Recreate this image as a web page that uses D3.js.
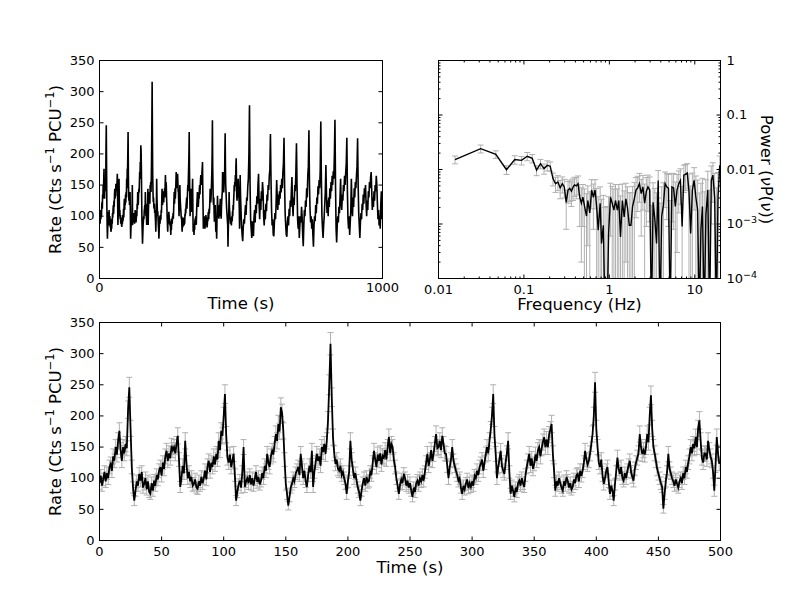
<!DOCTYPE html>
<html>
<head>
<meta charset="utf-8">
<script src="https://cdn.jsdelivr.net/npm/d3@7"></script>
<style>
  body { margin: 0; background: #fff; }
</style>
</head>
<body>
<svg id="chart" width="800" height="600"></svg>
<script>
// light curve, 1 s bins from t = 0 (cts/s/PCU)
const rate = [
  92,104,88,98,110,95,108,100,118,123,112,135,128,150,138,160,176,145,128,150,
  140,155,148,210,246,180,118,85,64,80,95,88,107,96,110,85,91,100,82,95,
  78,75,92,80,96,88,105,98,112,118,104,125,115,135,144,128,140,132,152,145,
  150,140,155,168,130,86,100,120,108,160,125,100,110,95,102,88,91,98,85,83,
  95,88,102,92,100,112,98,120,128,110,125,118,135,122,139,130,160,145,176,168,
  200,235,170,133,125,138,118,128,139,105,64,78,90,96,85,110,150,86,95,100,
  92,105,90,100,88,98,110,94,102,90,96,108,100,120,112,139,125,118,135,144,
  138,155,171,160,187,175,214,205,176,130,91,75,56,70,85,91,100,95,108,112,
  118,105,139,120,100,112,95,86,105,120,110,144,86,110,125,139,128,135,120,150,
  142,155,139,160,193,250,316,230,166,140,123,130,115,112,120,105,110,100,92,75,
  95,110,160,130,115,100,108,96,85,78,64,80,92,100,88,102,94,96,110,105,
  125,144,130,118,138,128,140,122,136,133,145,130,150,166,140,155,150,130,118,100,
  88,75,90,98,92,107,100,88,96,85,92,80,70,85,78,92,96,88,100,95,
  105,96,110,125,139,120,130,145,128,139,155,171,148,150,160,145,168,155,140,139,
  120,100,118,130,150,128,120,112,105,96,100,85,75,88,82,91,98,84,92,86,
  95,88,104,100,112,105,118,123,130,112,125,138,150,140,160,178,200,235,170,139,
  100,118,130,144,120,112,107,125,140,160,110,75,88,80,70,85,78,92,96,88,
  100,92,86,105,118,128,139,120,132,115,123,138,128,145,150,135,148,158,166,150,
  162,150,170,178,187,140,112,80,95,88,100,92,85,80,95,88,102,96,85,92,
  82,86,98,92,105,107,95,112,104,112,125,144,130,122,128,140,155,171,200,254,
  180,150,125,118,130,105,91,100,112,118,95,75,88,80,64,90,110,133,115,107,
  118,100,96,108,100,112,120,128,110,102,96,115,125,133,140,171,150,139,145,138,
  150,171,158,200,233,180,150,140,128,115,107,100,92,86,51,75,96,110,139,115,
  108,100,95,88,98,91,85,95,100,92,108,100,118,110,125,135,150,140,155,148,
  166,150,180,193,160,133,125,140,139,130,160,145,135,128,110,80,120,166,140,123
];
const rateErr = [
  10,10,9,10,10,10,10,10,11,11,11,12,11,12,12,13,13,12,11,12,
  12,12,12,14,16,13,11,9,8,9,10,9,10,10,10,9,10,10,9,10,
  9,9,10,9,10,9,10,10,11,11,10,11,11,12,12,11,12,11,12,12,
  12,12,12,13,11,9,10,11,10,13,11,10,10,10,10,9,10,10,9,9,
  10,9,10,10,10,11,10,11,11,10,11,11,12,11,12,11,13,12,13,13,
  14,15,13,12,11,12,11,11,12,10,8,9,9,10,9,10,12,9,10,10,
  10,10,9,10,9,10,10,10,10,9,10,10,10,11,11,12,11,11,12,12,
  12,12,13,13,14,13,15,14,13,11,10,9,7,8,9,10,10,10,10,11,
  11,10,12,11,10,11,10,9,10,11,10,12,9,10,11,12,11,12,11,12,
  12,12,12,13,14,16,18,15,13,12,11,11,11,11,11,10,10,10,10,9,
  10,10,13,11,11,10,10,10,9,9,8,9,10,10,9,10,10,10,10,10,
  11,12,11,11,12,11,12,11,12,12,12,11,12,13,12,12,12,11,11,10,
  9,9,9,10,10,10,10,9,10,9,10,9,8,9,9,10,10,9,10,10,
  10,10,10,11,12,11,11,12,11,12,12,13,12,12,13,12,13,12,12,12,
  11,10,11,11,12,11,11,11,10,10,10,9,9,9,9,10,10,9,10,9,
  10,9,10,10,11,10,11,11,11,11,11,12,12,12,13,13,14,15,13,12,
  10,11,11,12,11,11,10,11,12,13,10,9,9,9,8,9,9,10,10,9,
  10,10,9,10,11,11,12,11,11,11,11,12,11,12,12,12,12,13,13,12,
  13,12,13,13,14,12,11,9,10,9,10,10,9,9,10,9,10,10,9,10,
  9,9,10,10,10,10,10,11,10,11,11,12,11,11,11,12,12,13,14,16,
  13,12,11,11,11,10,10,10,11,11,10,9,9,9,8,9,10,12,11,10,
  11,10,10,10,10,11,11,11,10,10,10,11,11,12,12,13,12,12,12,12,
  12,13,13,14,15,13,12,12,11,11,10,10,10,9,7,9,10,10,12,11,
  10,10,10,9,10,10,9,10,10,10,10,10,11,10,11,12,12,12,12,12,
  13,12,13,14,13,12,11,12,12,11,13,12,12,11,10,9,11,13,12,11
];
const binSec = 1;

// second half of the 1000 s light curve (top-left panel), 2 s bins from 500 s
const lateRate = [
  110,85,70,60,82,95,88,105,118,102,130,125,148,160,200,278,150,95,80,65,92,85,68,98,110,
  90,118,105,132,120,150,168,120,95,128,110,140,125,155,140,100,85,110,95,120,108,135,125,150,142,
  165,175,232,160,110,85,95,70,68,90,105,95,120,158,130,110,135,118,140,128,150,138,160,145,170,
  185,226,150,105,85,70,67,90,100,85,112,100,125,115,140,163,120,100,130,118,150,140,172,217,150,
  95,80,100,65,85,100,90,115,98,70,52,85,110,100,125,115,145,130,165,180,238,150,110,90,100,
  80,95,70,51,85,100,92,118,105,130,120,148,135,158,145,175,252,160,100,80,65,85,100,120,140,
  182,135,105,125,100,130,115,145,128,155,140,165,150,172,160,200,255,150,80,58,85,100,90,115,105,
  130,160,120,110,135,125,150,140,165,150,170,185,226,140,95,80,100,70,90,110,160,115,100,130,115,
  145,130,155,145,165,180,225,150,105,85,65,90,105,95,120,110,135,120,145,130,150,120,100,125,110,
  140,130,155,145,162,171,140,110,130,115,140,125,150,140,165,150,120,95,110,85,100,80,120,140,95
];
const lateStart = 500;
const lateBinSec = 2;

// power spectrum: frequency (Hz), nu*P(nu) and its error
const freq = [
  0.0156,0.0312,0.0469,0.0625,0.0781,0.0938,0.1094,0.125,0.1406,0.1562,0.1719,0.1875,0.2031,
  0.2188,0.2344,0.25,0.2656,0.2812,0.2969,0.3125,0.3281,0.3438,0.3594,0.375,0.3906,
  0.41,0.43,0.45,0.47,0.49,0.51,0.54,0.56,0.59,0.62,0.65,0.68,0.71,0.74,0.78,0.81,0.85,0.89,0.94,0.98,
  1.03,1.08,1.13,1.18,1.24,1.29,1.35,1.42,1.49,1.56,1.63,1.71,1.79,1.87,1.96,2.05,2.15,2.25,2.36,2.47,
  2.59,2.71,2.83,2.97,3.11,3.25,3.41,3.57,3.73,3.91,4.10,4.29,4.49,4.70,4.92,5.15,5.40,5.65,5.92,6.20,
  6.49,6.79,7.11,7.45,7.80,8.17,8.55,8.95,9.37,9.82,10.3,10.8,11.3,11.8,12.3,12.9,13.5,14.2,14.9,15.6,
  16.3,17.1,17.9,18.7,19.6
];
const power = [
  0.0152,0.0241,0.019,0.0099,0.0152,0.0147,0.0175,0.016,0.0097,0.0128,0.0104,0.0119,0.0115,
  0.0068,0.0055,0.0059,0.0046,0.0055,0.0048,0.0025,0.0042,0.0045,0.004,0.0047,0.0052,
  0.005,0.0055,0.0031,0.0024,0.0031,0.0022,0.0014,0.0027,0.0016,0.0042,0.0031,0.0042,0.0021,0.00077,0.0024,0.00044,0.00095,-0.0005,-0.0004,0.00067,
  0.0031,0.0024,0.0018,0.0027,0.0018,0.0027,0.00058,0.0027,0.00135,0.0029,0.002,0.00095,0.00095,0.0021,0.0029,0.0042,0.0046,0.0055,0.0036,0.0048,
  0.0024,0.004,0.0048,0.0042,-0.001,0.0025,0.0012,0.00044,0.0063,-0.001,0.0014,0.0022,0.0055,0.0048,0.0045,-0.001,0.0048,0.0046,0.0021,0.0042,
  0.0055,0.0063,0.0009,0.0079,0.0082,0.0086,0.004,0.00067,0.0042,0.0063,0.0031,0.0018,-0.001,0.0008,0.0021,-0.001,0.0015,0.0042,-0.001,0.0063,
  0.0079,0.003,-0.001,0.0031,0.0119
];
const powerErr = [
  0.0025,0.004,0.003,0.0018,0.0027,0.0026,0.003,0.0028,0.002,0.0025,0.0022,0.0025,0.0022,
  0.0018,0.0017,0.0018,0.0017,0.0018,0.0018,0.0017,0.0018,0.0019,0.0019,0.002,0.002,
  0.0021,0.0021,0.0022,0.0022,0.0022,0.0022,0.0022,0.0023,0.0023,0.0023,0.0023,0.0023,0.0024,0.0024,0.0024,0.0024,0.0024,0.0025,0.0025,0.0025,
  0.0025,0.0025,0.0026,0.0026,0.0026,0.0026,0.0027,0.0027,0.0027,0.0027,0.0028,0.0028,0.0028,0.0028,0.0029,0.0029,0.0029,0.003,0.003,0.003,
  0.003,0.0031,0.0031,0.0031,0.0032,0.0032,0.0033,0.0033,0.0033,0.0034,0.0034,0.0035,0.0035,0.0036,0.0036,0.0037,0.0037,0.0038,0.0038,0.0039,
  0.0039,0.004,0.004,0.0041,0.0041,0.0042,0.0043,0.0043,0.0044,0.0045,0.0045,0.0046,0.0047,0.0048,0.0048,0.0049,0.005,0.0051,0.0052,0.0053,
  0.0054,0.0055,0.0056,0.0057,0.0058
];

// tick values
const rateTicks = [0, 50, 100, 150, 200, 250, 300, 350];
const fullTimeTicks = [0, 1000];
const zoomTimeTicks = [0, 50, 100, 150, 200, 250, 300, 350, 400, 450, 500];
const freqTicks = [0.01, 0.1, 1, 10];
const freqMinor = [0.02,0.03,0.04,0.05,0.06,0.07,0.08,0.09,0.2,0.3,0.4,0.5,0.6,0.7,0.8,0.9,2,3,4,5,6,7,8,9];
const powerTicks = [1e-4, 1e-3, 1e-2, 0.1, 1];
const powerMinor = [2e-4,3e-4,4e-4,5e-4,6e-4,7e-4,8e-4,9e-4,2e-3,3e-3,4e-3,5e-3,6e-3,7e-3,8e-3,9e-3,
  0.02,0.03,0.04,0.05,0.06,0.07,0.08,0.09,0.2,0.3,0.4,0.5,0.6,0.7,0.8,0.9];

const svg = d3.select("#chart");
const font = "'DejaVu Sans', sans-serif";
const grey = "#b0b0b0";

const A = { x0: 99.5, x1: 382.5, y0: 60.5, y1: 278.5 };
const B = { x0: 438.5, x1: 720.5, y0: 60.5, y1: 278.5 };
const C = { x0: 99.5, x1: 720.5, y0: 322.5, y1: 540.5 };

const defs = svg.append("defs");
[["clipA", A], ["clipB", B], ["clipC", C]].forEach(([id, b]) => {
  defs.append("clipPath").attr("id", id).append("rect")
    .attr("x", b.x0).attr("y", b.y0)
    .attr("width", b.x1 - b.x0).attr("height", b.y1 - b.y0);
});

function callAxis(axis, tr) {
  const g = svg.append("g").attr("transform", tr)
    .call(axis.offset(0).tickSizeOuter(0))
    .attr("font-family", font).attr("font-size", 13);
  g.select(".domain").remove();
  g.selectAll(".tick line").attr("stroke", "#000");
  g.selectAll(".tick text").attr("fill", "#000");
  return g;
}

// inward tick marks on all four sides
function inTicks(b, x, y, xv, yv, len) {
  const none = () => "";
  callAxis(d3.axisBottom(x).tickValues(xv).tickSizeInner(-len).tickFormat(none), `translate(0,${b.y1})`);
  callAxis(d3.axisTop(x).tickValues(xv).tickSizeInner(-len).tickFormat(none), `translate(0,${b.y0})`);
  callAxis(d3.axisLeft(y).tickValues(yv).tickSizeInner(-len).tickFormat(none), `translate(${b.x0},0)`);
  callAxis(d3.axisRight(y).tickValues(yv).tickSizeInner(-len).tickFormat(none), `translate(${b.x1},0)`);
}

function labels(axis, tr) {
  const g = callAxis(axis.tickSizeInner(0), tr);
  g.selectAll(".tick line").remove();
  return g;
}

function frame(b) {
  svg.append("rect").attr("x", b.x0).attr("y", b.y0)
    .attr("width", b.x1 - b.x0).attr("height", b.y1 - b.y0)
    .attr("fill", "none").attr("stroke", "#000").attr("stroke-width", 1);
}

function axisTitle(x, y, rot, str) {
  return svg.append("text")
    .attr("transform", `translate(${x},${y}) rotate(${rot})`)
    .attr("text-anchor", "middle").attr("font-family", font)
    .attr("font-size", 16.5).attr("fill", "#000").text(str);
}

function rateTitle(x, y) {
  const t = axisTitle(x, y, -90, null);
  t.append("tspan").text("Rate (Cts s");
  t.append("tspan").attr("dy", -7).attr("font-size", 11.5).text("\u22121");
  t.append("tspan").attr("dy", 7).text(" PCU");
  t.append("tspan").attr("dy", -7).attr("font-size", 11.5).text("\u22121");
  t.append("tspan").attr("dy", 7).text(")");
}

// ---------- top left: 1000 s light curve ----------
const lcFull = rate.map((r, i) => ({ t: i * binSec, r }))
  .concat(lateRate.map((r, i) => ({ t: lateStart + i * lateBinSec, r })));

const xA = d3.scaleLinear().domain([0, 1000]).range([A.x0, A.x1]);
const yA = d3.scaleLinear().domain([0, 350]).range([A.y1, A.y0]);

svg.append("g").attr("clip-path", "url(#clipA)")
  .append("path").datum(lcFull)
  .attr("fill", "none").attr("stroke", "#000").attr("stroke-width", 1.6)
  .attr("d", d3.line().x(d => xA(d.t)).y(d => yA(d.r)));

inTicks(A, xA, yA, fullTimeTicks, rateTicks, 4);
labels(d3.axisBottom(xA).tickValues(fullTimeTicks).tickPadding(4).tickFormat(d3.format("d")), `translate(0,${A.y1})`);
labels(d3.axisLeft(yA).tickValues(rateTicks).tickPadding(5), `translate(${A.x0},0)`);
frame(A);
axisTitle((A.x0 + A.x1) / 2, 309, 0, "Time (s)");
rateTitle(61, (A.y0 + A.y1) / 2);

// ---------- top right: power spectrum ----------
const psd = freq.map((f, i) => ({ f, p: power[i], e: powerErr[i] }));
const xB = d3.scaleLog().domain([0.01, 20]).range([B.x0, B.x1]);
const yB = d3.scaleLog().domain([1e-4, 1]).range([B.y1, B.y0]);
const pyB = v => (v > 0 ? yB(v) : B.y1 + 40);

const gB = svg.append("g").attr("clip-path", "url(#clipB)");
const ebB = gB.append("g").attr("stroke", grey).attr("stroke-width", 1);
ebB.selectAll("line.bar").data(psd).join("line").attr("class", "bar")
  .attr("x1", d => xB(d.f)).attr("x2", d => xB(d.f))
  .attr("y1", d => pyB(d.p - d.e)).attr("y2", d => pyB(d.p + d.e));
ebB.selectAll("line.cap")
  .data(psd.flatMap(d => [{ f: d.f, v: d.p - d.e }, { f: d.f, v: d.p + d.e }]))
  .join("line").attr("class", "cap")
  .attr("x1", d => xB(d.f) - 3).attr("x2", d => xB(d.f) + 3)
  .attr("y1", d => pyB(d.v)).attr("y2", d => pyB(d.v));
gB.append("path").datum(psd)
  .attr("fill", "none").attr("stroke", "#000").attr("stroke-width", 1.4)
  .attr("d", d3.line().x(d => xB(d.f)).y(d => pyB(d.p)));

inTicks(B, xB, yB, freqTicks, powerTicks, 4);
inTicks(B, xB, yB, freqMinor, powerMinor, 2);
labels(d3.axisBottom(xB).tickValues(freqTicks).tickPadding(6).tickFormat(d => String(d)), `translate(0,${B.y1})`);
const gBy = labels(d3.axisRight(yB).tickValues(powerTicks).tickPadding(6).tickFormat(d => String(d)), `translate(${B.x1},0)`);
gBy.selectAll(".tick text").each(function (d) {
  const ex = Math.round(Math.log10(d));
  if (ex < -2) {
    const t = d3.select(this).text("10");
    t.append("tspan").attr("dy", "-0.5em").attr("font-size", 9.5).text("\u2212" + (-ex));
  }
});
frame(B);
axisTitle((B.x0 + B.x1) / 2, 310, 0, "Frequency (Hz)");
const pt = axisTitle(761, (B.y0 + B.y1) / 2, 90, null);
pt.append("tspan").text("Power (");
pt.append("tspan").attr("font-style", "italic").text("\u03bd");
pt.append("tspan").text("P(");
pt.append("tspan").attr("font-style", "italic").text("\u03bd");
pt.append("tspan").text("))");

// ---------- bottom: first 500 s with errors ----------
const lc = rate.map((r, i) => ({ t: i * binSec, r, e: rateErr[i] }));
const xC = d3.scaleLinear().domain([0, 500]).range([C.x0, C.x1]);
const yC = d3.scaleLinear().domain([0, 350]).range([C.y1, C.y0]);

const gC = svg.append("g").attr("clip-path", "url(#clipC)");
const ebC = gC.append("g").attr("stroke", grey).attr("stroke-width", 1);
ebC.selectAll("line.bar").data(lc).join("line").attr("class", "bar")
  .attr("x1", d => xC(d.t)).attr("x2", d => xC(d.t))
  .attr("y1", d => yC(d.r - d.e)).attr("y2", d => yC(d.r + d.e));
ebC.selectAll("line.cap")
  .data(lc.flatMap(d => [{ t: d.t, v: d.r - d.e }, { t: d.t, v: d.r + d.e }]))
  .join("line").attr("class", "cap")
  .attr("x1", d => xC(d.t) - 3).attr("x2", d => xC(d.t) + 3)
  .attr("y1", d => yC(d.v)).attr("y2", d => yC(d.v));
gC.append("path").datum(lc)
  .attr("fill", "none").attr("stroke", "#000").attr("stroke-width", 1.8)
  .attr("d", d3.line().x(d => xC(d.t)).y(d => yC(d.r)));

inTicks(C, xC, yC, zoomTimeTicks, rateTicks, 4);
labels(d3.axisBottom(xC).tickValues(zoomTimeTicks).tickPadding(6), `translate(0,${C.y1})`);
labels(d3.axisLeft(yC).tickValues(rateTicks).tickPadding(5), `translate(${C.x0},0)`);
frame(C);
axisTitle((C.x0 + C.x1) / 2, 573, 0, "Time (s)");
rateTitle(61, (C.y0 + C.y1) / 2);
</script>
</body>
</html>
